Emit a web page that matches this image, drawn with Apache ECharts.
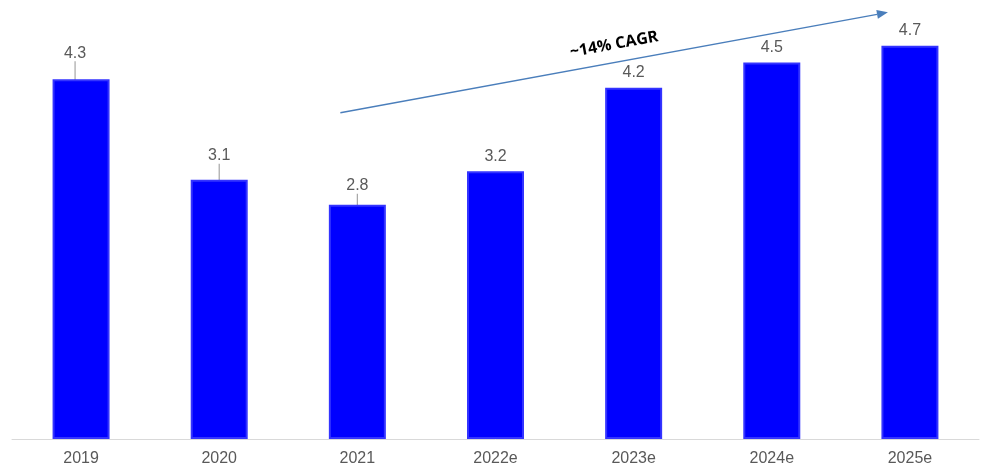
<!DOCTYPE html>
<html>
<head>
<meta charset="utf-8">
<script src="https://cdn.jsdelivr.net/npm/echarts@6/dist/echarts.min.js"></script>
<style>
  html, body { margin: 0; padding: 0; background: #ffffff; }
  #chart { width: 982px; height: 470px; }
</style>
</head>
<body>
<div id="chart"></div>
<script>
// Market size by year (actual and estimated)
const categories = ['2019', '2020', '2021', '2022e', '2023e', '2024e', '2025e'];
const values = [4.3, 3.1, 2.8, 3.2, 4.2, 4.5, 4.7];
const cagrText = '~14% CAGR';

// Label nudges for the first three bars, shown with a short leader line
const labelShift = { 0: [-6, -11], 1: [0, -9], 2: [0, -4] };

const chart = echarts.init(document.getElementById('chart'), null, { renderer: 'canvas' });

const barData = values.map((v, i) => ({
  value: v,
  labelLine: { show: labelShift[i] !== undefined }
}));

chart.setOption({
  animation: false,
  backgroundColor: '#ffffff',
  grid: { left: 12, right: 3, top: 4, bottom: 31, containLabel: false },
  xAxis: {
    type: 'category',
    data: categories,
    axisLine: { show: true, lineStyle: { color: '#d9d9d9', width: 1 } },
    axisTick: { show: false },
    axisLabel: {
      color: '#595959',
      fontFamily: 'Liberation Sans, Arial, sans-serif',
      fontSize: 16,
      margin: 12
    }
  },
  yAxis: {
    type: 'value',
    min: 0,
    max: 5.2,
    show: false,
    splitLine: { show: false }
  },
  series: [{
    type: 'bar',
    data: barData,
    barWidth: 57,
    itemStyle: { color: '#0000ff', borderColor: '#3434ff', borderWidth: 2 },
    label: {
      show: true,
      position: 'top',
      distance: 7,
      color: '#595959',
      fontFamily: 'Liberation Sans, Arial, sans-serif',
      fontSize: 16,
      formatter: p => p.value.toFixed(1)
    },
    labelLine: {
      lineStyle: { color: '#a6a6a6', width: 1.2 }
    },
    labelLayout: function (params) {
      const s = labelShift[params.dataIndex];
      if (!s) return {};
      return { dx: s[0], dy: s[1] };
    }
  }]
});

// Growth arrow spanning 2021 to 2025e, positioned from the category axis
function drawArrow() {
  const a = chart.convertToPixel({ seriesIndex: 0 }, [2, 3.9]);
  const b = chart.convertToPixel({ seriesIndex: 0 }, [6, 5.1]);
  const x1 = a[0] - 17, y1 = a[1];
  const x2 = b[0] - 22, y2 = b[1];
  const ang = Math.atan2(y2 - y1, x2 - x1);
  const head = 11, half = 4.5;
  const hx = x2 - head * Math.cos(ang), hy = y2 - head * Math.sin(ang);
  const px = -Math.sin(ang) * half, py = Math.cos(ang) * half;
  const mx = x1 + (x2 - x1) * 0.5, my = y1 + (y2 - y1) * 0.5;
  chart.setOption({
    graphic: [
      {
        type: 'line',
        shape: { x1: x1, y1: y1, x2: hx, y2: hy },
        style: { stroke: '#4a7ebb', lineWidth: 1.3 },
        silent: true
      },
      {
        type: 'polygon',
        shape: { points: [[x2, y2], [hx + px, hy + py], [hx - px, hy - py]] },
        style: { fill: '#4a7ebb' },
        silent: true
      },
      {
        type: 'text',
        x: mx,
        y: my - 18,
        rotation: -ang,
        style: {
          text: cagrText,
          fill: '#000000',
          font: 'bold 16px "Open Sans", sans-serif',
          align: 'center',
          verticalAlign: 'middle'
        },
        silent: true
      }
    ]
  });
}
drawArrow();
</script>
</body>
</html>
